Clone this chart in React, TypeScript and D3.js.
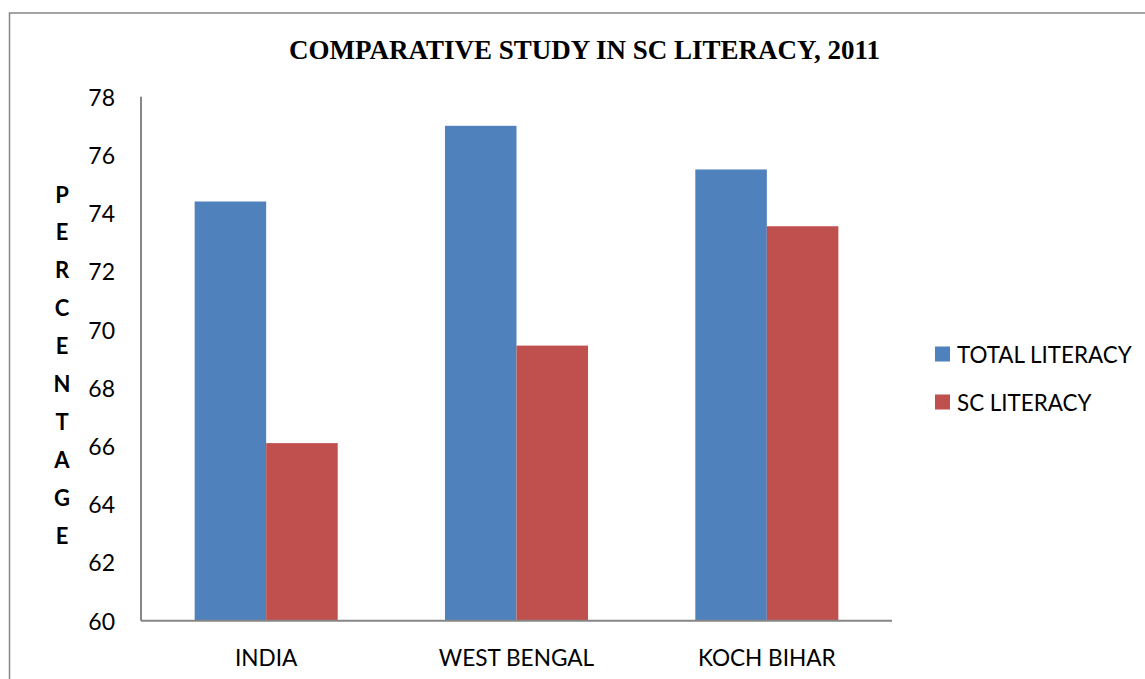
import React from "react";
import * as d3 from "d3";

const categories = ["INDIA", "WEST BENGAL", "KOCH BIHAR"];
const seriesNames = ["TOTAL LITERACY", "SC LITERACY"];
const totalLiteracy = [74.4, 77.0, 75.5];
const scLiteracy = [66.1, 69.45, 73.55];
const yTicks = [60, 62, 64, 66, 68, 70, 72, 74, 76, 78];
const axisTitle = "PERCENTAGE";
const title = "COMPARATIVE STUDY IN SC LITERACY, 2011";
const colors = ["#4F81BD", "#C0504D"];

const W = 1145;
const H = 679;
const plot = { left: 141, right: 892, top: 96.7, bottom: 620.7 };
const sansFont = "Lato, 'Open Sans', sans-serif";

export default function App() {
  const values = [totalLiteracy, scLiteracy];
  const x0 = d3
    .scaleBand<string>()
    .domain(categories)
    .range([plot.left, plot.right])
    .padding(0);
  const x1 = d3
    .scaleBand<string>()
    .domain(seriesNames)
    .range([0, x0.bandwidth()])
    .paddingInner(0)
    .paddingOuter(0.75);
  const y = d3.scaleLinear().domain([60, 78]).range([plot.bottom, plot.top]);

  const letters = axisTitle.split("");
  const letterStart = 194;
  const letterStep = 37.9;

  return (
    <svg
      width={W}
      height={H}
      style={{ position: "absolute", left: 0, top: 0, background: "#fff" }}
    >
      <rect x={0} y={0} width={W} height={H} fill="#fff" />
      <rect
        x={9.5}
        y={13}
        width={W + 20}
        height={H + 20}
        fill="none"
        stroke="#878787"
        strokeWidth={1.5}
      />
      <text
        x={584.5}
        y={58.5}
        textAnchor="middle"
        fontFamily="'Liberation Serif', 'Times New Roman', serif"
        fontWeight="bold"
        fontSize={27}
        fill="#000"
      >
        {title}
      </text>

      {/* bars */}
      {categories.map((c, ci) =>
        seriesNames.map((s, si) => {
          const v = values[si][ci];
          const bx = (x0(c) as number) + (x1(s) as number);
          return (
            <rect
              key={c + s}
              x={bx}
              y={y(v)}
              width={x1.bandwidth()}
              height={y(60) - y(v)}
              fill={colors[si]}
            />
          );
        })
      )}

      {/* axes */}
      <line
        x1={plot.left}
        x2={plot.left}
        y1={plot.top}
        y2={plot.bottom}
        stroke="#868686"
        strokeWidth={2}
      />
      <line
        x1={plot.left}
        x2={plot.right}
        y1={plot.bottom}
        y2={plot.bottom}
        stroke="#868686"
        strokeWidth={2}
      />

      {yTicks.map((t) => (
        <text
          key={t}
          x={115}
          y={y(t)}
          textAnchor="end"
          dominantBaseline="central"
          fontFamily={sansFont}
          fontSize={23}
          fill="#000"
        >
          {t}
        </text>
      ))}

      {categories.map((c) => (
        <text
          key={c}
          x={(x0(c) as number) + x0.bandwidth() / 2}
          y={657}
          textAnchor="middle"
          dominantBaseline="central"
          fontFamily={sansFont}
          fontSize={22.6}
          fill="#000"
        >
          {c}
        </text>
      ))}

      {letters.map((l, i) => (
        <text
          key={i}
          x={62}
          y={letterStart + i * letterStep}
          textAnchor="middle"
          dominantBaseline="central"
          fontFamily={sansFont}
          fontWeight="bold"
          fontSize={22}
          fill="#000"
        >
          {l}
        </text>
      ))}

      {/* legend */}
      {seriesNames.map((s, i) => (
        <g key={s}>
          <rect x={935} y={346.5 + i * 48} width={15} height={15} fill={colors[i]} />
          <text
            x={957}
            y={354 + i * 48}
            dominantBaseline="central"
            fontFamily={sansFont}
            fontSize={22.4}
            fill="#000"
          >
            {s}
          </text>
        </g>
      ))}
    </svg>
  );
}
